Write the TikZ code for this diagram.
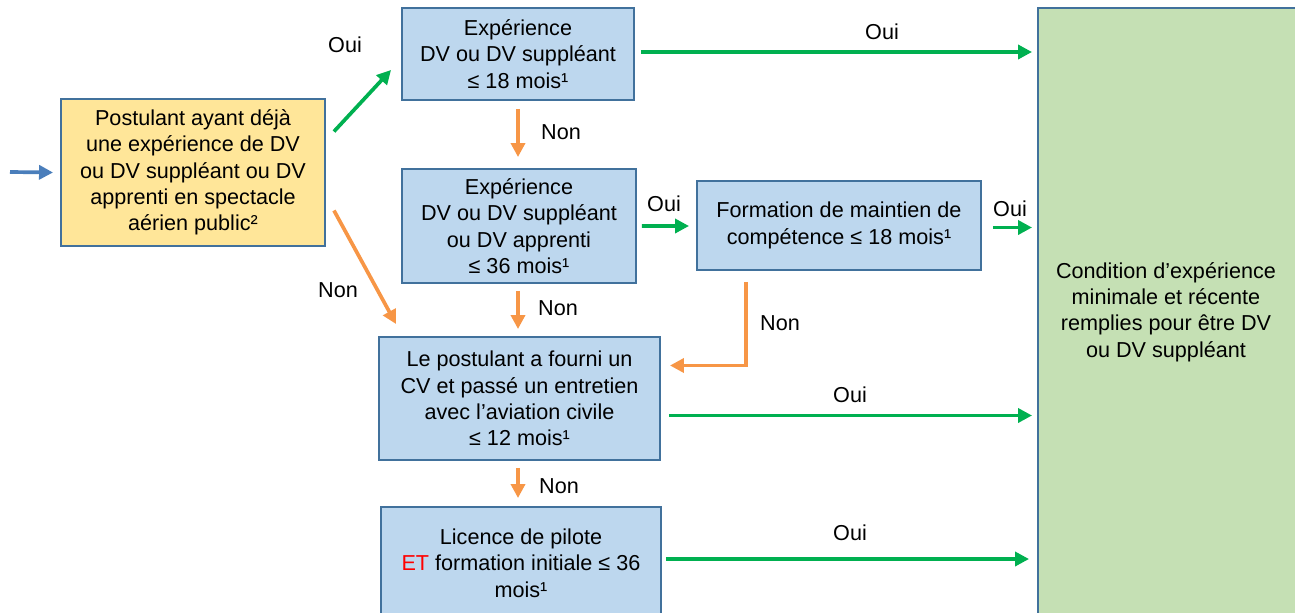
\documentclass[tikz,border=0pt]{standalone}
\usepackage{fontspec}
\setmainfont{Liberation Sans}
\usetikzlibrary{arrows.meta, positioning, calc}
\definecolor{cedge}{HTML}{41719C}
\definecolor{cblue}{HTML}{BDD7EE}
\definecolor{cyellow}{HTML}{FFE699}
\definecolor{cgoal}{HTML}{C5E0B4}
\definecolor{cgreen}{HTML}{00B050}
\definecolor{corange}{HTML}{F79646}
\definecolor{centry}{HTML}{4A7EBB}
\tikzset{
  every picture/.style={line width=1.1pt},
  box/.style={draw=cedge, fill=#1, align=center, inner sep=2pt},
  box/.default=cblue,
  oui/.style={-{Triangle[length=2.8mm, width=2.8mm]}, draw=cgreen, line width=2.1pt},
  non/.style={-{Triangle[length=2.8mm, width=2.8mm]}, draw=corange, line width=2.1pt},
  lbl/.style={inner sep=0pt},
}
\begin{document}
\begin{tikzpicture}[x=0.02cm, y=-0.02cm,
  every node/.append style={font=\fontsize{12.3}{15}\selectfont}]
  \useasboundingbox (0,0) rectangle (1295,612);
  % boxes
  \node[box=cyellow, minimum width=264*0.02cm, minimum height=147*0.02cm] (start) at (193,172.5)
    {Postulant ayant déjà\\une expérience de DV\\ou DV suppléant ou DV\\apprenti en spectacle\\aérien public²};
  \node[box, minimum width=232*0.02cm, minimum height=92*0.02cm] (exp18) at (518,54)
    {Expérience\\DV ou DV suppléant\\≤ 18 mois¹};
  \node[box, minimum width=234*0.02cm, minimum height=114*0.02cm] (exp36) at (519,226)
    {Expérience\\DV ou DV suppléant\\ou DV apprenti\\≤ 36 mois¹};
  \node[box, minimum width=284*0.02cm, minimum height=89*0.02cm] (maint) at (839,225.5)
    {Formation de maintien de\\compétence ≤ 18 mois¹};
  \node[box, minimum width=281*0.02cm, minimum height=123*0.02cm] (cv) at (519.5,398.5)
    {Le postulant a fourni un\\CV et passé un entretien\\avec l’aviation civile\\≤ 12 mois¹};
  \node[box, minimum width=280*0.02cm, minimum height=112*0.02cm] (lic) at (521,563)
    {Licence de pilote\\\textcolor{red}{ET} formation initiale ≤ 36\\mois¹};
  \node[box=cgoal, minimum width=264*0.02cm, minimum height=616*0.02cm] (goal) at (1170,316) {};
  \node[align=center] (goaltext) at (1166,312)
    {Condition d’expérience\\minimale et récente\\remplies pour être DV\\ou DV suppléant};
  % connectors
  \coordinate (entry) at (10,172);
  \draw[-{Triangle[length=2.8mm, width=2.8mm]}, draw=centry, line width=2.1pt] (entry) -- ($(start.west)+(-7,0)$);
  \draw[oui] ($(start.east)+(8,-41)$) -- ($(exp18.west)+(-10,16)$);
  \draw[non] ($(start.east)+(8,38)$) -- ($(cv.north west)+(18,-12)$);
  \draw[oui] ($(exp18.east)+(6,-2)$) -- ($(goal.west |- exp18.east)+(-5,-2)$);
  \draw[non] ($(exp18.south)+(0,8)$) -- ($(exp36.north)+(-1,-11)$);
  \draw[oui] ($(exp36.east)+(5,0)$) -- ($(maint.west)+(-7,0.5)$);
  \draw[oui] ($(maint.east)+(11,2)$) -- ($(goal.west |- maint.east)+(-5,2)$);
  \draw[non] ($(exp36.south)+(-1,7)$) -- ($(cv.north)+(-1.5,-7)$);
  \draw[non] ($(maint.south)+(-93,11)$) |- ($(cv.east)+(9,-33)$);
  \draw[oui] ($(cv.east)+(8,17)$) -- ($(goal.west |- cv.east)+(-5,17)$);
  \draw[non] ($(cv.south)+(-1.5,7)$) -- ($(lic.north)+(-3,-8)$);
  \draw[oui] ($(lic.east)+(4,-4)$) -- ($(goal.west |- lic.east)+(-8,-4)$);
  % labels
  \node[lbl] (l1) at (345,45) {Oui};
  \node[lbl] (l2) at (338,290) {Non};
  \node[lbl] (l3) at (882,32) {Oui};
  \node[lbl] (l4) at (561,132) {Non};
  \node[lbl] (l5) at (664,204) {Oui};
  \node[lbl] (l6) at (1010,209) {Oui};
  \node[lbl] (l7) at (558,308) {Non};
  \node[lbl] (l8) at (780,323) {Non};
  \node[lbl] (l9) at (850,395) {Oui};
  \node[lbl] (l10) at (559,486) {Non};
  \node[lbl] (l11) at (850,533) {Oui};
\end{tikzpicture}
\end{document}
